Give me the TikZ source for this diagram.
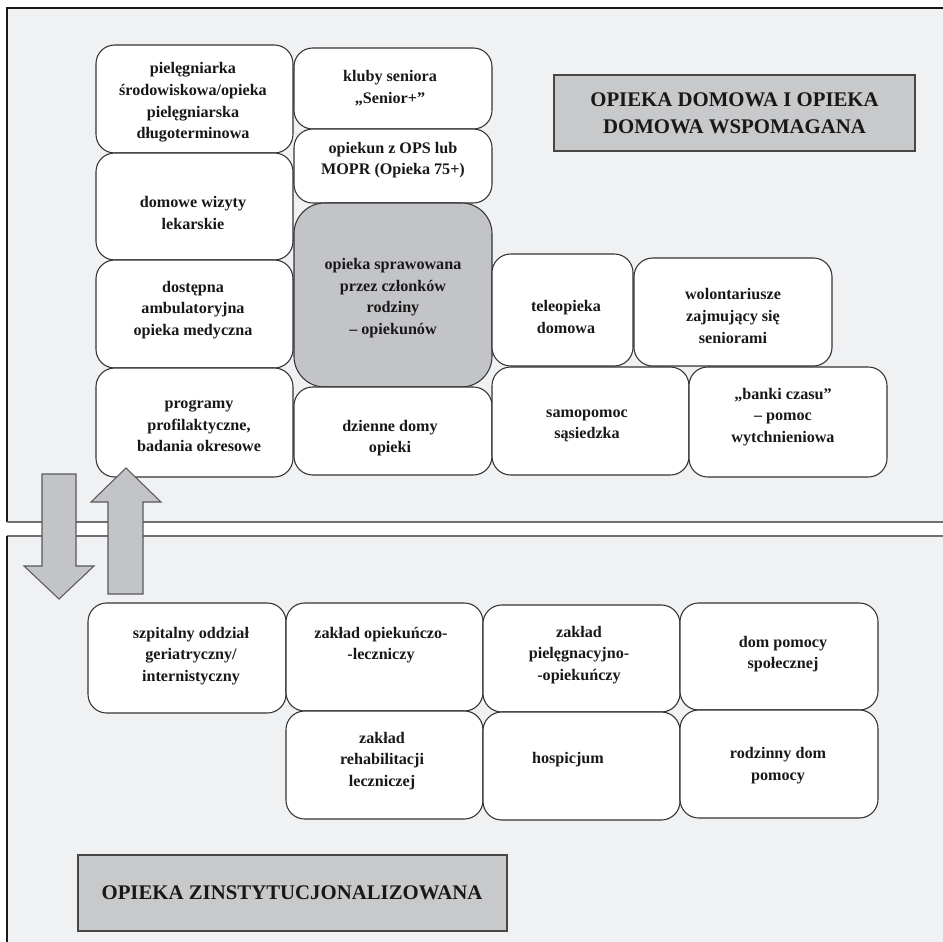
\documentclass[tikz,border=0pt]{standalone}
\usepackage{fontspec}
\setmainfont{Liberation Serif}
\definecolor{panelfill}{HTML}{F0F1F3}
\definecolor{grayfill}{HTML}{C3C4C7}
\definecolor{headfill}{HTML}{C8C9CB}
\definecolor{txt}{HTML}{1A1718}
\definecolor{edge}{HTML}{333333}
\definecolor{panelline}{HTML}{707070}
\begin{document}
\begin{tikzpicture}[x=0.75pt,y=-0.75pt,
  sz/.style 2 args={minimum width=#1*0.75pt, minimum height=#2*0.75pt, inner sep=0pt},
  box/.style={draw=edge, fill=white, line width=0.8pt, rounded corners=14pt},
  graybox/.style={draw=edge, fill=grayfill, line width=0.8pt, rounded corners=23pt},
  headbox/.style={draw=edge!90, fill=headfill, line width=0.8pt},
  lbl/.style={align=center, inner sep=0pt, text=txt, font=\bfseries\fontsize{12.1}{16.3}\selectfont},
  headlbl/.style={align=center, inner sep=0pt, text=txt, font=\bfseries\fontsize{15.6}{20.2}\selectfont},
  arrowshape/.style={draw=black!65, fill=grayfill, line width=0.8pt, line join=miter}]
\useasboundingbox (0,0) rectangle (943,942);
\fill[white] (0,0) rectangle (943,942);
% panels
\fill[panelfill] (7,8) rectangle (943,522);
\fill[panelfill] (7,536) rectangle (943,942);
\draw[txt, line width=1.1pt] (943,8) -- (7,8) -- (7,522);
\draw[panelline, line width=1.1pt] (7,522) -- (943,522);
\draw[panelline, line width=1.1pt] (943,536) -- (7,536);
\draw[txt, line width=1.1pt] (7,536) -- (7,942);
% top boxes
\node[box, sz={197}{108}] (b1) at (194.5,99) {};
\node[box, sz={197}{107}] (b2) at (194.5,206.5) {};
\node[box, sz={197}{108}] (b3) at (194.5,314) {};
\node[box, sz={197}{109}] (b4) at (194.5,422.5) {};
\node[box, sz={198}{81}] (b5) at (393,88.5) {};
\node[box, sz={198}{74}] (b6) at (393,166) {};
\node[graybox, sz={198}{184}] (b7) at (393,295) {};
\node[box, sz={198}{88}] (b8) at (393,431) {};
\node[box, sz={141}{112}] (b9) at (562.5,310) {};
\node[box, sz={198}{108}] (b10) at (733,312) {};
\node[box, sz={197}{108}] (b11) at (590.5,421) {};
\node[box, sz={198}{110}] (b12) at (788,422) {};
\node[headbox, sz={361}{76}] (h1) at (734.5,113) {};
% top labels
\node[lbl] (t1) at (193,102.5) {pielęgniarka\\środowiskowa/opieka\\pielęgniarska\\długoterminowa};
\node[lbl] (t2) at (193,213) {domowe wizyty\\lekarskie};
\node[lbl] (t3) at (193,310) {dostępna\\ambulatoryjna\\opieka medyczna};
\node[lbl] (t4) at (199,426) {programy\\profilaktyczne,\\badania okresowe};
\node[lbl] (t5) at (390,88) {kluby seniora\\„Senior+”};
\node[lbl] (t6) at (393,160) {opiekun z OPS lub\\MOPR (Opieka 75+)};
\node[lbl] (t7) at (393,298) {opieka sprawowana\\przez członków\\rodziny\\– opiekunów};
\node[lbl] (t8) at (390,438) {dzienne domy\\opieki};
\node[lbl] (t9) at (566,317) {teleopieka\\domowa};
\node[lbl] (t10) at (733,316) {wolontariusze\\zajmujący się\\seniorami};
\node[lbl] (t11) at (587,426) {samopomoc\\sąsiedzka};
\node[lbl] (t12) at (783,417) {„banki czasu”\\– pomoc\\wytchnieniowa};
\node[headlbl] (th1) at (734.5,113) {OPIEKA DOMOWA I OPIEKA\\DOMOWA WSPOMAGANA};
% bottom boxes
\node[box, sz={198}{110}] (c1) at (187,658) {};
\node[box, sz={197}{108}] (c2) at (384.5,657) {};
\node[box, sz={197}{108}] (c3) at (384.5,765) {};
\node[box, sz={197}{107}] (c4) at (581.5,658.5) {};
\node[box, sz={197}{108}] (c5) at (581.5,766) {};
\node[box, sz={198}{107}] (c6) at (779,656.5) {};
\node[box, sz={198}{108}] (c7) at (779,764) {};
\node[headbox, sz={429}{76}] (h2) at (292.5,893) {};
% bottom labels
\node[lbl] (u1) at (191,656) {szpitalny oddział\\geriatryczny/\\internistyczny};
\node[lbl] (u2) at (381,645) {zakład opiekuńczo-\\-leczniczy};
\node[lbl] (u3) at (382,761) {zakład\\rehabilitacji\\leczniczej};
\node[lbl] (u4) at (579,655) {zakład\\pielęgnacyjno-\\-opiekuńczy};
\node[lbl] (u5) at (568,760) {hospicjum};
\node[lbl] (u6) at (783,654) {dom pomocy\\społecznej};
\node[lbl] (u7) at (778,766) {rodzinny dom\\pomocy};
\node[headlbl] (th2) at (292,893) {OPIEKA ZINSTYTUCJONALIZOWANA};
% arrows
\draw[arrowshape] (42,474) -- (76,474) -- (76,566) -- (94,566) -- (59,599) -- (24,566) -- (42,566) -- cycle;
\draw[arrowshape] (108,594) -- (143,594) -- (143,502) -- (161,502) -- (126,468) -- (91,502) -- (108,502) -- cycle;
\end{tikzpicture}
\end{document}
